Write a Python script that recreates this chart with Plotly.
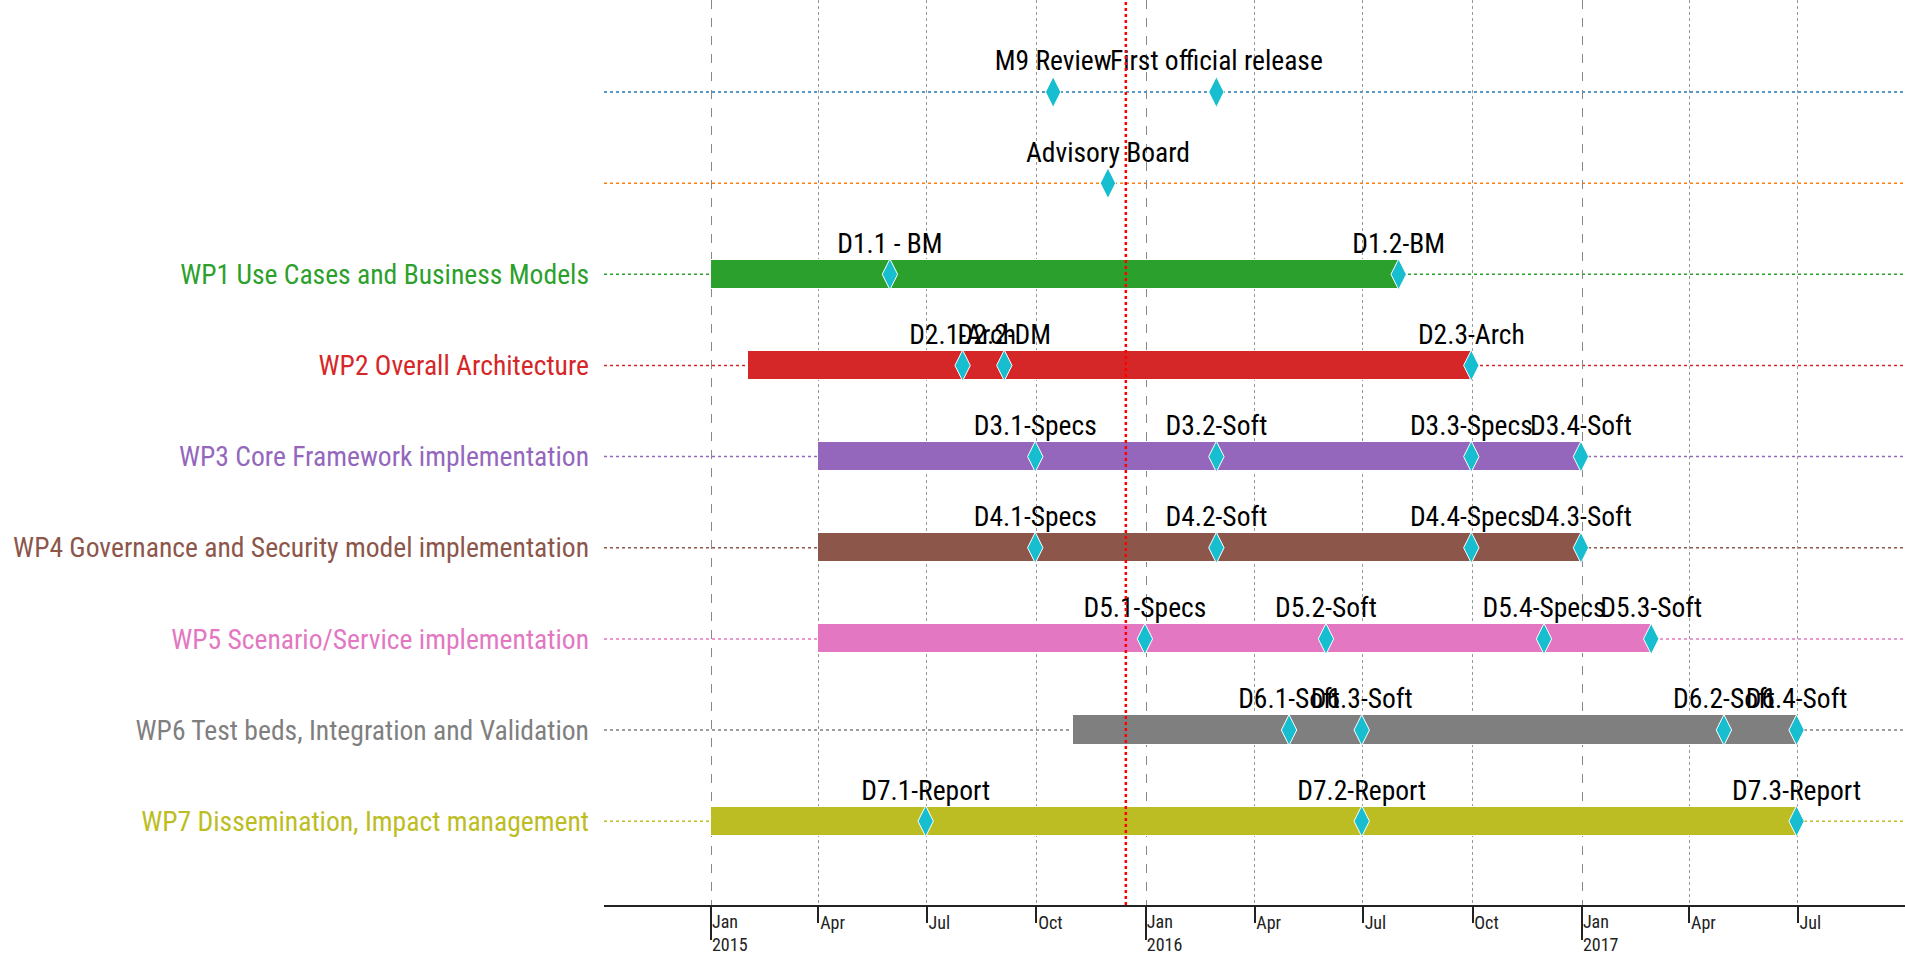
import plotly.graph_objects as go
import pandas as pd

# ---------------- data ----------------
wp_names = [
    "WP1 Use Cases and Business Models",
    "WP2 Overall Architecture",
    "WP3 Core Framework implementation",
    "WP4 Governance and Security model implementation",
    "WP5 Scenario/Service implementation",
    "WP6 Test beds, Integration and Validation",
    "WP7 Dissemination, Impact management",
]
wp_rows = [6, 5, 4, 3, 2, 1, 0]
wp_colors = ["#2ca02c", "#d62728", "#9467bd", "#8c564b", "#e377c2", "#7f7f7f", "#bcbd22"]
wp_start = ["2015-01-01", "2015-02-01", "2015-04-01", "2015-04-01", "2015-04-01", "2015-11-01", "2015-01-01"]
wp_end = ["2016-07-31", "2016-09-30", "2016-12-31", "2016-12-31", "2017-02-28", "2017-06-30", "2017-06-30"]

milestone_rows_y = [8, 7]
milestone_row_colors = ["#1f77b4", "#ff7f0e"]

event_labels = [
    "M9 Review", "First official release",
    "Advisory Board",
    "D1.1 - BM", "D1.2-BM",
    "D2.1-Arch", "D2.2-DM", "D2.3-Arch",
    "D3.1-Specs", "D3.2-Soft", "D3.3-Specs", "D3.4-Soft",
    "D4.1-Specs", "D4.2-Soft", "D4.4-Specs", "D4.3-Soft",
    "D5.1-Specs", "D5.2-Soft", "D5.4-Specs", "D5.3-Soft",
    "D6.1-Soft", "D6.3-Soft", "D6.2-Soft", "D6.4-Soft",
    "D7.1-Report", "D7.2-Report", "D7.3-Report",
]
event_rows = [
    8, 8,
    7,
    6, 6,
    5, 5, 5,
    4, 4, 4, 4,
    3, 3, 3, 3,
    2, 2, 2, 2,
    1, 1, 1, 1,
    0, 0, 0,
]
event_dates = [
    "2015-10-15", "2016-02-29",
    "2015-11-30",
    "2015-05-31", "2016-07-31",
    "2015-07-31", "2015-09-04", "2016-09-30",
    "2015-09-30", "2016-02-29", "2016-09-30", "2016-12-31",
    "2015-09-30", "2016-02-29", "2016-09-30", "2016-12-31",
    "2015-12-31", "2016-05-31", "2016-11-30", "2017-02-28",
    "2016-04-30", "2016-06-30", "2017-04-30", "2017-06-30",
    "2015-06-30", "2016-06-30", "2017-06-30",
]

today = "2015-12-15"
x_range = ["2014-10-03", "2017-09-29"]
quarter_ticks = ["2015-04-01", "2015-07-01", "2015-10-01",
                 "2016-04-01", "2016-07-01", "2016-10-01",
                 "2017-04-01", "2017-07-01"]
quarter_labels = ["Apr", "Jul", "Oct", "Apr", "Jul", "Oct", "Apr", "Jul"]
year_ticks = ["2015-01-01", "2016-01-01", "2017-01-01"]
year_labels = ["Jan<br>2015", "Jan<br>2016", "Jan<br>2017"]

FONT = "Roboto Condensed, Liberation Sans Narrow, Arial Narrow, sans-serif"

# ---------------- figure ----------------
fig = go.Figure()

starts = pd.to_datetime(wp_start)
ends = pd.to_datetime(wp_end)
durations = [(e - s).total_seconds() * 1000 for s, e in zip(starts, ends)]

fig.add_trace(go.Bar(
    orientation="h",
    y=wp_rows,
    x=durations,
    base=wp_start,
    width=0.32,
    marker=dict(color=wp_colors, line=dict(color="white", width=1)),
    showlegend=False,
    hoverinfo="skip",
))

fig.add_trace(go.Scatter(
    x=event_dates,
    y=event_rows,
    mode="markers+text",
    text=event_labels,
    textposition="top center",
    textfont=dict(family=FONT, size=27.5, color="black"),
    marker=dict(symbol="diamond-tall", size=22, color="#17becf",
                line=dict(color="white", width=1)),
    showlegend=False,
    hoverinfo="skip",
))

# invisible trace for the overlay axis
fig.add_trace(go.Scatter(x=[x_range[0]], y=[0], xaxis="x2", mode="markers",
                         marker=dict(opacity=0), showlegend=False, hoverinfo="skip"))

# dotted row lines
all_rows = milestone_rows_y + wp_rows
all_row_colors = milestone_row_colors + wp_colors
for r, c in zip(all_rows, all_row_colors):
    fig.add_shape(type="line", xref="paper", x0=0, x1=1, yref="y", y0=r, y1=r,
                  line=dict(color=c, width=1.5, dash="dot"), layer="below")

# today line
fig.add_shape(type="line", xref="x", x0=today, x1=today, yref="paper", y0=0, y1=1,
              line=dict(color="red", width=2.5, dash="dot"), layer="above")

ytext = [f'<span style="color:{c}">{n}</span>' for n, c in zip(wp_names, wp_colors)]

fig.update_layout(
    width=1905, height=956,
    margin=dict(l=604, r=0, t=0, b=51, autoexpand=False),
    plot_bgcolor="white", paper_bgcolor="white",
    font=dict(family=FONT, color="black"),
    bargap=0,
    xaxis=dict(
        type="date", range=x_range,
        tickmode="array", tickvals=quarter_ticks, ticktext=quarter_labels,
        ticks="outside", ticklen=16, tickwidth=1.5, tickcolor="#222",
        ticklabelposition="outside right",
        tickfont=dict(family=FONT, size=18, color="#222"),
        showgrid=True, gridcolor="#999", griddash="dot", gridwidth=1,
        showline=True, linecolor="#222", linewidth=2,
        zeroline=False, automargin=False,
    ),
    xaxis2=dict(
        type="date", range=x_range, overlaying="x", side="bottom", anchor="y",
        tickmode="array", tickvals=year_ticks, ticktext=year_labels,
        ticks="outside", ticklen=34, tickwidth=1.5, tickcolor="#222",
        ticklabelposition="outside right",
        tickfont=dict(family=FONT, size=18, color="#222"),
        showgrid=True, gridcolor="#888", griddash="dash", gridwidth=1,
        showline=False, zeroline=False, automargin=False,
    ),
    yaxis=dict(
        range=[-0.92, 9.01],
        tickmode="array", tickvals=wp_rows, ticktext=ytext,
        tickfont=dict(family=FONT, size=27.6),
        ticks="", ticklabelstandoff=14,
        showgrid=False, zeroline=False, showline=False, automargin=False,
    ),
)

fig.write_html(
    "out.html",
    config={"displayModeBar": False},
    post_script="document.body.style.margin='0';document.body.style.overflow='hidden';",
)
